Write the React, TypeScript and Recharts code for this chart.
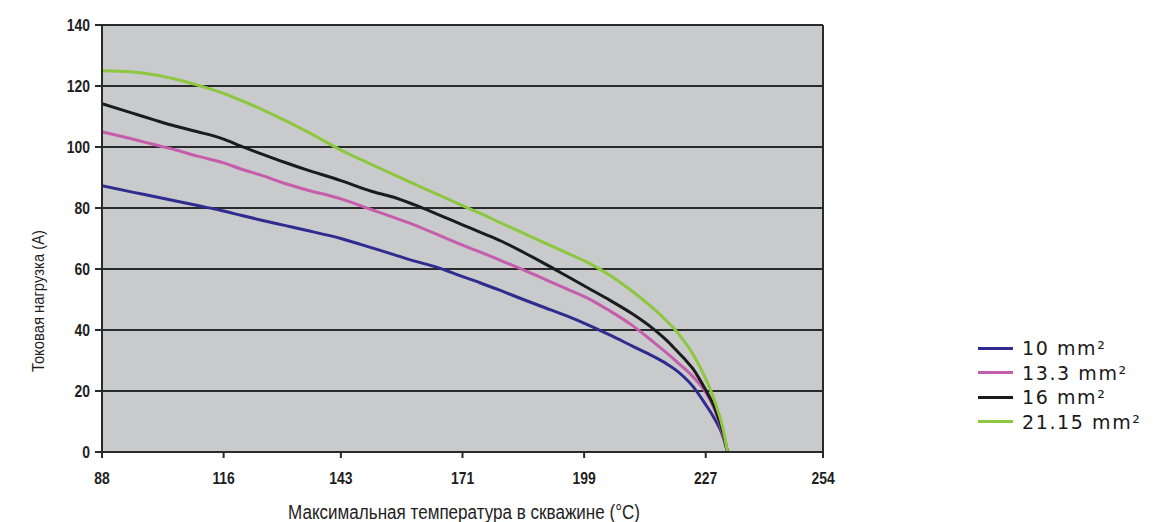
import React from 'react';
import { LineChart, Line, XAxis, YAxis, CartesianGrid, ReferenceLine } from 'recharts';

const temperatures = [88, 95, 100, 105, 110, 116, 120, 125, 130, 135, 143, 150, 155, 160, 165, 171, 175, 180, 185, 190, 195, 200, 205, 210, 215, 218, 220, 222, 224, 227, 229, 231, 232];
const load10 = [87.3, 85.2, 83.8, 82.3, 80.8, 79.0, 77.6, 75.9, 74.3, 72.7, 70.0, 67.0, 64.8, 62.6, 60.6, 57.5, 55.5, 52.8, 50.0, 47.3, 44.6, 41.6, 38.3, 34.8, 31.3, 28.9, 27.0, 24.6, 21.6, 15.5, 11.0, 5.0, 0];
const load13 = [105.0, 102.6, 100.8, 99.0, 97.0, 94.8, 92.8, 90.6, 88.1, 86.0, 83.0, 79.5, 77.0, 74.4, 71.4, 67.8, 65.6, 62.7, 59.7, 56.6, 53.5, 50.3, 46.2, 41.6, 36.0, 32.5, 30.0, 27.5, 24.8, 19.6, 14.0, 5.5, 0];
const load16 = [114.2, 111.1, 108.9, 106.8, 105.0, 102.6, 100.3, 97.6, 95.0, 92.6, 89.0, 85.5, 83.6, 81.0, 78.1, 74.5, 72.1, 69.1, 65.5, 61.7, 57.7, 53.7, 49.7, 45.4, 40.3, 36.6, 33.7, 30.7, 27.4, 20.3, 14.8, 6.2, 0];
const load21 = [125.0, 124.6, 123.7, 122.2, 120.3, 117.6, 115.3, 112.2, 108.8, 105.2, 99.0, 94.3, 91.0, 87.8, 84.6, 80.8, 78.3, 75.0, 71.8, 68.5, 65.3, 62.0, 57.9, 52.8, 47.0, 43.0, 40.0, 36.4, 32.2, 24.0, 17.0, 7.5, 0];

const seriesNames = ['10 mm²', '13.3 mm²', '16 mm²', '21.15 mm²'];
const seriesColors = ['#2e2c8e', '#c55dac', '#1b1b1b', '#8dc63f'];
const seriesKeys = ['s10', 's13', 's16', 's21'];

const xTicks = [88, 116, 143, 171, 199, 227, 254];
const yTicks = [0, 20, 40, 60, 80, 100, 120, 140];

const xTitle = 'Максимальная температура в скважине (°C)';
const yTitle = 'Токовая нагрузка (А)';

const data = temperatures.map((t, i) => ({
  t,
  s10: load10[i],
  s13: load13[i],
  s16: load16[i],
  s21: load21[i],
}));

const sans = "'Liberation Sans', Arial, sans-serif";

const YTitle = () => {
  const cx = 30;
  const cy = 293;
  return (
    <text
      x={cx}
      y={cy}
      transform={`rotate(-90 ${cx} ${cy})`}
      textAnchor="middle"
      dominantBaseline="central"
      fontFamily={sans}
      fontSize={16}
      textLength={142}
      lengthAdjust="spacingAndGlyphs"
      fill="#1e1e1e"
    >
      {yTitle}
    </text>
  );
};

const XTitle = () => (
  <text
    x={456}
    y={504}
    textAnchor="middle"
    dominantBaseline="central"
    fontFamily={sans}
    fontSize={20}
    textLength={352}
    lengthAdjust="spacingAndGlyphs"
    fill="#1e1e1e"
  >
    {xTitle}
  </text>
);

const XTick = (props: any) => {
  const { x, y, payload } = props;
  return (
    <g transform={`translate(${x},${y + 20}) scale(0.82,1)`}>
      <text x={0} y={0} textAnchor="middle" dominantBaseline="central" fontFamily={sans} fontWeight={700} fontSize={17} fill="#1e1e1e">
        {payload.value}
      </text>
    </g>
  );
};

const YTick = (props: any) => {
  const { x, y, payload } = props;
  return (
    <g transform={`translate(${x - 5},${y}) scale(0.82,1)`}>
      <text x={0} y={0} textAnchor="end" dominantBaseline="central" fontFamily={sans} fontWeight={700} fontSize={17} fill="#1e1e1e">
        {payload.value}
      </text>
    </g>
  );
};

export default function App() {
  return (
    <div style={{ position: 'relative', width: 1150, height: 514 }}>
      <LineChart
        width={1150}
        height={514}
        data={data}
        margin={{ top: 17, right: 335, bottom: 0, left: 0 }}
      >
        <CartesianGrid
          vertical={false}
          fill="#c9cacc"
          fillOpacity={1}
          stroke="#2a2a2a"
          strokeWidth={2}
        />
        <XAxis
          dataKey="t"
          type="number"
          domain={[88, 254]}
          ticks={xTicks}
          allowDataOverflow
          height={70}
          tickSize={6}
          tickMargin={0}
          axisLine={{ stroke: '#2a2a2a', strokeWidth: 2 }}
          tickLine={{ stroke: '#2a2a2a', strokeWidth: 2 }}
          tick={<XTick />}
          label={{ content: () => <XTitle /> }}
        />
        <YAxis
          type="number"
          domain={[0, 140]}
          ticks={yTicks}
          width={94}
          tickSize={7}
          tickMargin={0}
          axisLine={{ stroke: '#2a2a2a', strokeWidth: 2 }}
          tickLine={{ stroke: '#2a2a2a', strokeWidth: 2 }}
          tick={<YTick />}
          label={{ content: () => <YTitle /> }}
        />
        <ReferenceLine x={254} stroke="#2a2a2a" strokeWidth={2} />
        {seriesKeys.map((k, i) => (
          <Line
            key={k}
            type="monotone"
            dataKey={k}
            name={seriesNames[i]}
            stroke={seriesColors[i]}
            strokeWidth={3}
            dot={false}
            activeDot={false}
            isAnimationActive={false}
          />
        ))}
      </LineChart>
      <div style={{ position: 'absolute', left: 970, top: 328 }}>
        {seriesNames.map((n, i) => (
          <div key={n} style={{ display: 'flex', alignItems: 'center', height: 24.5 }}>
            <div style={{ width: 35, height: 3, background: seriesColors[i], marginRight: 9 }} />
            <span style={{ fontFamily: "'DejaVu Sans', Verdana, sans-serif", fontSize: 19, letterSpacing: 1.6, color: '#1a1a1a', whiteSpace: 'nowrap' }}>
              {n}
            </span>
          </div>
        ))}
      </div>
    </div>
  );
}
